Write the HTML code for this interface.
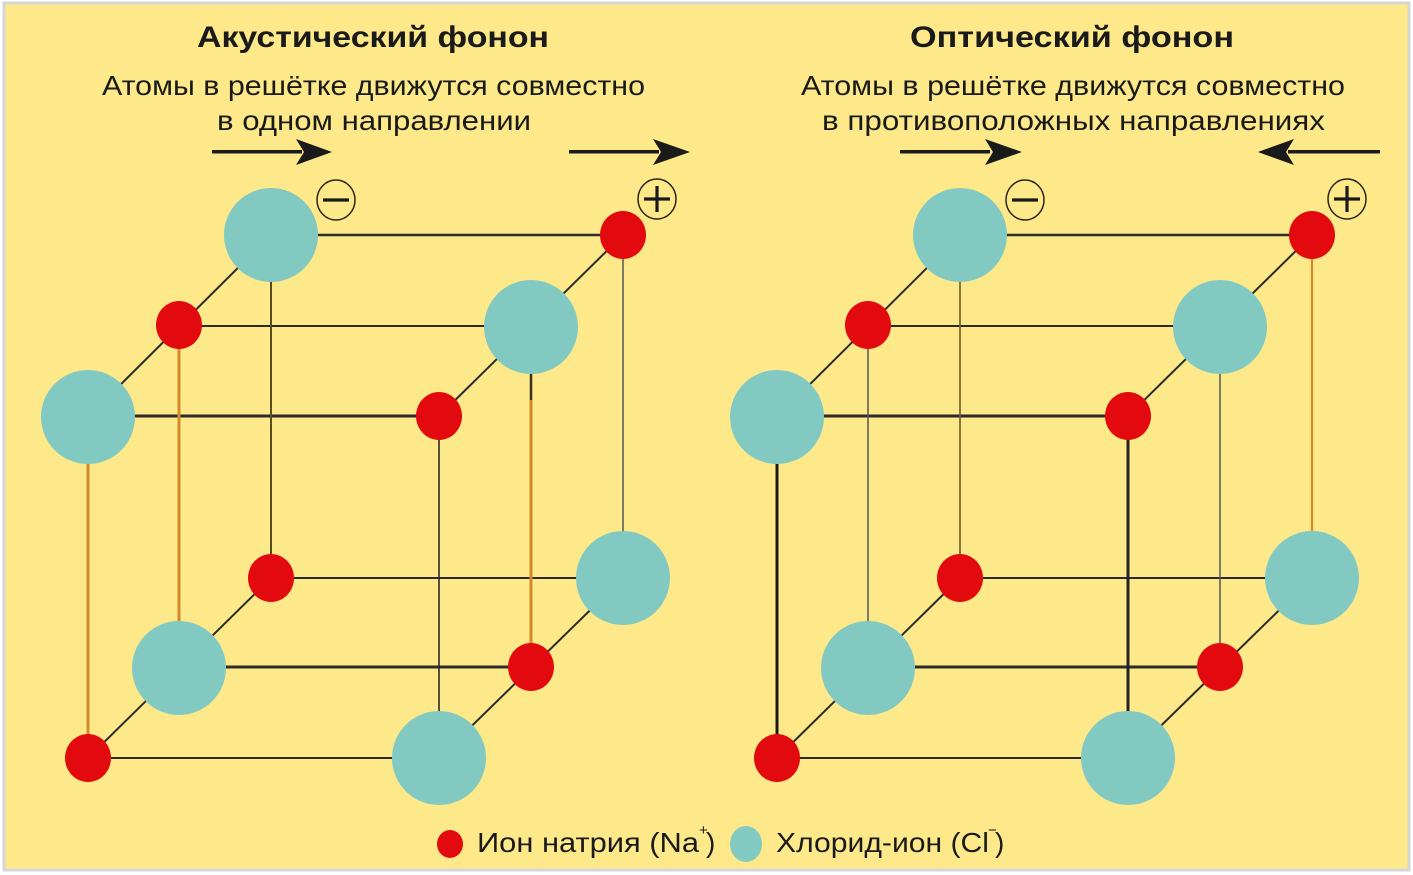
<!DOCTYPE html>
<html><head><meta charset="utf-8">
<style>
html,body{margin:0;padding:0;background:#fff;}
svg{display:block;}
</style></head>
<body>
<svg width="1413" height="875" viewBox="0 0 1413 875" xmlns="http://www.w3.org/2000/svg">
<rect x="0" y="0" width="1413" height="875" fill="#ffffff"/>
<rect x="4" y="3" width="1405" height="867" fill="#FDE98A" stroke="#d6d6d6" stroke-width="3"/>

<g font-family="'Liberation Sans', 'DejaVu Sans', sans-serif" fill="#1a1a1a">
<text x="197" y="47" font-size="30" font-weight="bold" textLength="352" lengthAdjust="spacingAndGlyphs">Акустический фонон</text>
<text x="910" y="47" font-size="30" font-weight="bold" textLength="324" lengthAdjust="spacingAndGlyphs">Оптический фонон</text>
<text x="102" y="95" font-size="28" textLength="543" lengthAdjust="spacingAndGlyphs">Атомы в решётке движутся совместно</text>
<text x="217" y="130" font-size="28" textLength="314" lengthAdjust="spacingAndGlyphs">в одном направлении</text>
<text x="801" y="95" font-size="28" textLength="544" lengthAdjust="spacingAndGlyphs">Атомы в решётке движутся совместно</text>
<text x="822" y="130" font-size="28" textLength="503" lengthAdjust="spacingAndGlyphs">в противоположных направлениях</text>

<text x="477" y="852" font-size="28" textLength="222" lengthAdjust="spacingAndGlyphs">Ион натрия (Na</text>
<text x="699" y="835" font-size="15">+</text>
<text x="706" y="852" font-size="28">)</text>
<text x="776" y="852" font-size="28" textLength="213" lengthAdjust="spacingAndGlyphs">Хлорид-ион (Cl</text>
<text x="988" y="835" font-size="15">−</text>
<text x="995" y="852" font-size="28">)</text>
</g>

<!-- legend dots -->
<ellipse cx="450" cy="844" rx="13" ry="14" fill="#E20A0E"/>
<ellipse cx="746" cy="844" rx="16" ry="18" fill="#82C9C1"/>

<!-- arrows -->
<g fill="#1a1a1a" stroke="none">
  <rect x="212" y="150" width="90" height="3.5"/>
  <polygon points="296,139 332,152 296,165 304,152"/>
  <rect x="569" y="150" width="90" height="3.5"/>
  <polygon points="653,139 690,152 653,165 661,152"/>
  <rect x="900" y="150" width="90" height="3.5"/>
  <polygon points="985,139 1022,152 985,165 993,152"/>
  <rect x="1288" y="150" width="92" height="3.5"/>
  <polygon points="1294,139 1258,152 1294,165 1286,152"/>
</g>

<!-- signs -->
<g fill="none" stroke="#2a2418" stroke-width="1.5">
  <ellipse cx="336" cy="200" rx="19" ry="20"/>
  <ellipse cx="657" cy="199" rx="19" ry="20"/>
  <ellipse cx="1025" cy="200" rx="19" ry="20"/>
  <ellipse cx="1347" cy="199" rx="19" ry="20"/>
</g>
<g stroke="#1a1a1a" stroke-width="3.2">
  <line x1="323" y1="200" x2="349" y2="200"/>
  <line x1="644" y1="199" x2="670" y2="199"/>
  <line x1="657" y1="186" x2="657" y2="212"/>
  <line x1="1012" y1="200" x2="1038" y2="200"/>
  <line x1="1334" y1="199" x2="1360" y2="199"/>
  <line x1="1347" y1="186" x2="1347" y2="212"/>
</g>

<!-- LEFT CUBE lines -->
<g stroke="#2b2b2b" fill="none">
  <line x1="271" y1="235" x2="623" y2="235" stroke-width="2.5"/>
  <line x1="179" y1="326" x2="531" y2="326" stroke-width="2"/>
  <line x1="88" y1="416" x2="439" y2="416" stroke-width="3"/>
  <line x1="271" y1="578" x2="623" y2="578" stroke-width="2"/>
  <line x1="179" y1="667" x2="531" y2="667" stroke-width="3"/>
  <line x1="88" y1="758" x2="439" y2="758" stroke-width="2"/>
  <line x1="271" y1="235" x2="88" y2="417" stroke-width="2"/>
  <line x1="623" y1="235" x2="439" y2="416" stroke-width="2"/>
  <line x1="271" y1="578" x2="88" y2="758" stroke-width="2"/>
  <line x1="623" y1="578" x2="439" y2="758" stroke-width="2"/>
  <line x1="271" y1="235" x2="271" y2="578" stroke-width="2" stroke="#5a4a20"/>
  <line x1="439" y1="416" x2="439" y2="758" stroke-width="1.6"/>
  <line x1="623" y1="235" x2="623" y2="578" stroke-width="1.5" stroke="#555"/>
</g>
<g stroke="#D4892A" stroke-width="3" fill="none">
  <line x1="88" y1="417" x2="88" y2="758"/>
  <line x1="179" y1="325" x2="179" y2="668"/>
  <line x1="531" y1="400" x2="531" y2="667"/>
</g>
<line x1="531" y1="327" x2="531" y2="400" stroke="#3a3020" stroke-width="2.5"/>

<!-- RIGHT CUBE lines -->
<g stroke="#2b2b2b" fill="none">
  <line x1="960" y1="235" x2="1312" y2="235" stroke-width="2.5"/>
  <line x1="868" y1="326" x2="1220" y2="326" stroke-width="2"/>
  <line x1="777" y1="416" x2="1128" y2="416" stroke-width="3"/>
  <line x1="960" y1="578" x2="1312" y2="578" stroke-width="2"/>
  <line x1="868" y1="667" x2="1220" y2="667" stroke-width="3"/>
  <line x1="777" y1="758" x2="1128" y2="758" stroke-width="2"/>
  <line x1="960" y1="235" x2="777" y2="417" stroke-width="2"/>
  <line x1="1312" y1="235" x2="1128" y2="416" stroke-width="2"/>
  <line x1="960" y1="578" x2="777" y2="758" stroke-width="2"/>
  <line x1="1312" y1="578" x2="1128" y2="758" stroke-width="2"/>
  <line x1="777" y1="417" x2="777" y2="758" stroke-width="3" stroke="#1a1a1a"/>
  <line x1="868" y1="325" x2="868" y2="668" stroke-width="1.5" stroke="#555"/>
  <line x1="960" y1="235" x2="960" y2="578" stroke-width="1.6" stroke="#6a5a20"/>
  <line x1="1128" y1="416" x2="1128" y2="758" stroke-width="3" stroke="#222"/>
  <line x1="1220" y1="327" x2="1220" y2="667" stroke-width="1.5" stroke="#555"/>
</g>
<line x1="1312" y1="235" x2="1312" y2="578" stroke="#D4892A" stroke-width="2.2"/>

<!-- LEFT atoms -->
<g fill="#82C9C1">
  <ellipse cx="271" cy="235" rx="47" ry="47"/>
  <ellipse cx="531" cy="327" rx="47" ry="47"/>
  <ellipse cx="88" cy="417" rx="47" ry="47"/>
  <ellipse cx="623" cy="578" rx="47" ry="47"/>
  <ellipse cx="179" cy="668" rx="47" ry="47"/>
  <ellipse cx="439" cy="758" rx="47" ry="47"/>
</g>
<g fill="#E20A0E">
  <ellipse cx="623" cy="235" rx="23" ry="24"/>
  <ellipse cx="179" cy="325" rx="23" ry="24"/>
  <ellipse cx="439" cy="416" rx="23" ry="24"/>
  <ellipse cx="271" cy="578" rx="23" ry="24"/>
  <ellipse cx="531" cy="667" rx="23" ry="24"/>
  <ellipse cx="88" cy="758" rx="23" ry="24"/>
</g>

<!-- RIGHT atoms -->
<g fill="#82C9C1">
  <ellipse cx="960" cy="235" rx="47" ry="47"/>
  <ellipse cx="1220" cy="327" rx="47" ry="47"/>
  <ellipse cx="777" cy="417" rx="47" ry="47"/>
  <ellipse cx="1312" cy="578" rx="47" ry="47"/>
  <ellipse cx="868" cy="668" rx="47" ry="47"/>
  <ellipse cx="1128" cy="758" rx="47" ry="47"/>
</g>
<g fill="#E20A0E">
  <ellipse cx="1312" cy="235" rx="23" ry="24"/>
  <ellipse cx="868" cy="325" rx="23" ry="24"/>
  <ellipse cx="1128" cy="416" rx="23" ry="24"/>
  <ellipse cx="960" cy="578" rx="23" ry="24"/>
  <ellipse cx="1220" cy="667" rx="23" ry="24"/>
  <ellipse cx="777" cy="758" rx="23" ry="24"/>
</g>
</svg>
</body></html>
